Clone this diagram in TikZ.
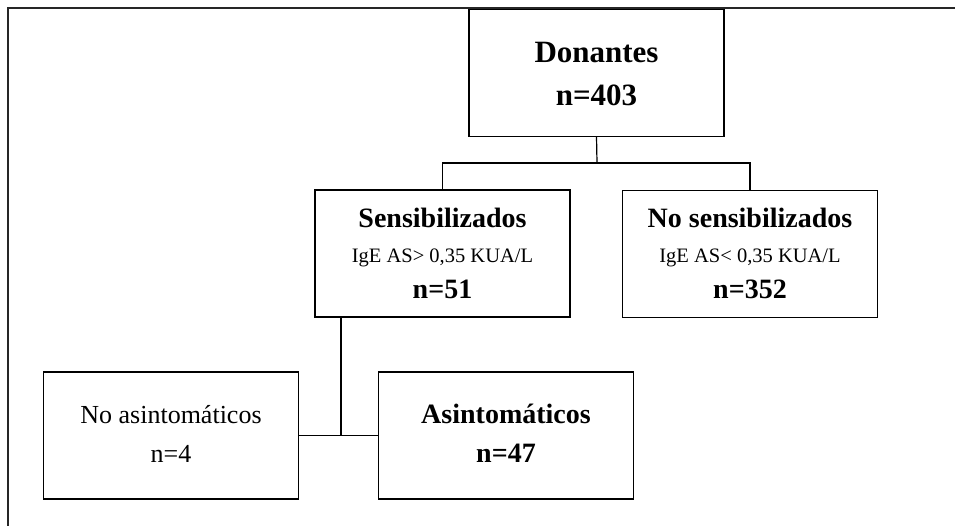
\documentclass[tikz,border=0pt]{standalone}
\usepackage{fontspec}
\setmainfont{Liberation Serif}
\begin{document}
\begin{tikzpicture}[x=1pt,y=-1pt,
  box/.style={draw=black,line width=1.4pt,minimum width=255pt,minimum height=127pt,inner sep=0pt,outer sep=0pt},
  link/.style={draw=black,line width=1.2pt},
  frameline/.style={draw=black!85,line width=2pt},
  big/.style={anchor=base,font=\fontsize{28}{30}\selectfont\bfseries,inner sep=0pt},
  huge/.style={anchor=base,font=\fontsize{31}{33}\selectfont\bfseries,inner sep=0pt},
  mid/.style={anchor=base,font=\fontsize{26}{28}\selectfont,inner sep=0pt},
  small/.style={anchor=base,font=\fontsize{20.5}{22}\selectfont,inner sep=0pt}]
  \useasboundingbox (0,0) rectangle (955,525);
  % outer frame, open to the right and bottom
  \draw[frameline] (8,530) -- (8,8) -- (960,8);

  % boxes
  \node[box] (don)    at (596.5,73)  {};
  \node[box] (sens)   at (442.5,253.5) {};
  \node[box] (nosens) at (750,254)   {};
  \node[box] (noasin) at (171,435.5) {};
  \node[box] (asint)  at (506,435.5) {};

  % texts
  \node[huge] (donA) at (596.5,62) {Donantes};
  \node[huge] (donB) at (596.5,105) {n=403};

  \node[big]   (sensA) at (442.5,227) {Sensibilizados};
  \node[small] (sensB) at (442.5,262) {IgE AS> 0,35 KUA/L};
  \node[big]   (sensC) at (442.5,298) {n=51};

  \node[big]   (nosensA) at (750,227) {No sensibilizados};
  \node[small] (nosensB) at (750,262) {IgE AS< 0,35 KUA/L};
  \node[big]   (nosensC) at (750,298) {n=352};

  \node[mid] (noasinA) at (171,423) {No asintomáticos};
  \node[mid] (noasinB) at (171,462) {n=4};

  \node[big] (asintA) at (506,423) {Asintomáticos};
  \node[big] (asintB) at (506,462) {n=47};

  % connectors
  \coordinate (j1) at (597,163);
  \draw[link] (don.south) -- (j1);
  \draw[link] (sens.north) |- (j1) -| (nosens.north);
  \coordinate (sb) at ([xshift=-101.5pt]sens.south);
  \draw[link] (sb) -- (sb |- noasin.east);
  \draw[link] (noasin.east) -- (asint.west);
\end{tikzpicture}
\end{document}
